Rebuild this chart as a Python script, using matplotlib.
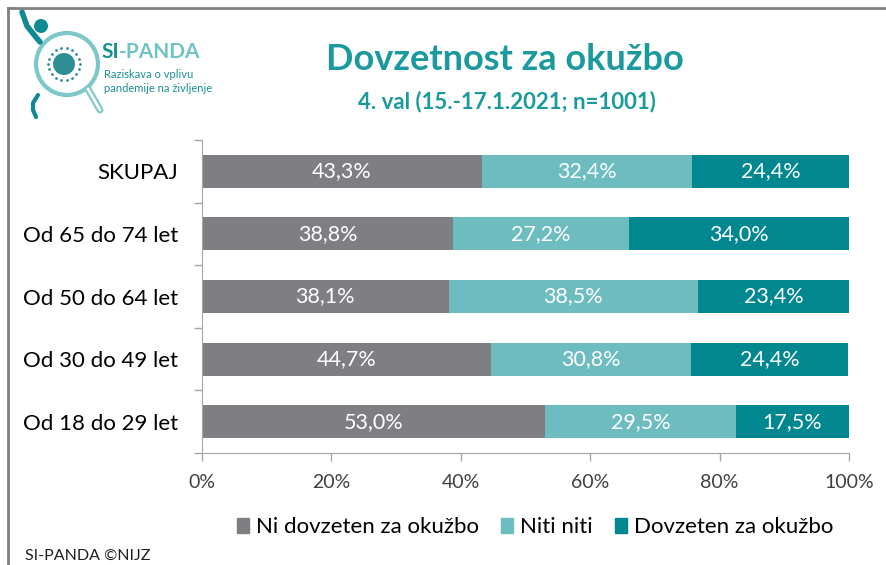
import matplotlib
matplotlib.use("Agg")
import matplotlib.pyplot as plt
from matplotlib.patches import Circle, Rectangle, FancyBboxPatch
from matplotlib.lines import Line2D
import numpy as np

plt.rcParams['font.family'] = ['Lato', 'DejaVu Sans']

categories = ["SKUPAJ", "Od 65 do 74 let", "Od 50 do 64 let", "Od 30 do 49 let", "Od 18 do 29 let"]
ni_dovzeten = [43.3, 38.8, 38.1, 44.7, 53.0]
niti_niti = [32.4, 27.2, 38.5, 30.8, 29.5]
dovzeten = [24.4, 34.0, 23.4, 24.4, 17.5]
series_names = ["Ni dovzeten za okužbo", "Niti niti", "Dovzeten za okužbo"]
colors = ["#7f7f83", "#6dbcc0", "#00878f"]
xticks = [0, 20, 40, 60, 80, 100]

W, H = 887, 565
fig = plt.figure(figsize=(W / 100, H / 100), dpi=100)
ax = fig.add_axes([0.2277, 0.1982, 0.7295, 0.554])

ypos = np.arange(len(categories))[::-1]
left = np.zeros(len(categories))
for vals, col in zip([ni_dovzeten, niti_niti, dovzeten], colors):
    vals = np.array(vals)
    ax.barh(ypos, vals, left=left, height=0.53, color=col, edgecolor="none")
    for y, l, v in zip(ypos, left, vals):
        ax.text(l + v / 2, y, f"{v:.1f}%".replace(".", ","), ha="center", va="center",
                color="white", fontsize=15.5)
    left = left + vals

ax.set_xlim(0, 100)
ax.set_ylim(-0.5, 4.5)
ax.set_xticks(xticks)
ax.set_xticklabels([f"{t}%" for t in xticks], fontsize=14, color="#404040")
ax.set_yticks(ypos)
ax.set_yticklabels(categories, fontsize=16, color="#000000")
ax.set_yticks(np.arange(-0.5, 5.0, 1.0), minor=True)
ax.tick_params(axis="y", which="major", length=0, pad=17)
ax.tick_params(axis="y", which="minor", length=6, color="#a6a6a6", width=1)
ax.tick_params(axis="x", length=6, color="#a6a6a6", width=1, pad=9)
for s in ["top", "right"]:
    ax.spines[s].set_visible(False)
for s in ["left", "bottom"]:
    ax.spines[s].set_color("#a6a6a6")

handles = [Rectangle((0, 0), 1, 1, color=c) for c in colors]
fig.legend(handles, series_names, loc="center", bbox_to_anchor=(0.603, 0.067), ncol=3,
           frameon=False, fontsize=16, handlelength=0.55, handleheight=0.7,
           handletextpad=0.3, columnspacing=1.0)

# titles
fig.text(0.569, 0.894, "Dovzetnost za okužbo", ha="center", va="center",
         fontsize=26, fontweight="bold", color="#1a9a9e")
fig.text(0.571, 0.821, "4. val (15.-17.1.2021; n=1001)", ha="center", va="center",
         fontsize=16, fontweight="bold", color="#1a9a9e")
fig.text(0.028, 0.017, "SI-PANDA ©NIJZ", ha="left", va="center", fontsize=11.5, color="#202020")

# simple logo, drawn in pixel coordinates
lg = fig.add_axes([0, 0, 1, 1], zorder=-1)
lg.set_xlim(0, W)
lg.set_ylim(H, 0)
lg.axis("off")
lg.add_patch(Circle((67, 64), 31, fill=False, edgecolor="#7cc7c9", linewidth=3))
lg.add_patch(Circle((64, 64), 11, facecolor="#2d8f95", edgecolor="none"))
ang = np.linspace(0, 2 * np.pi, 18, endpoint=False)
lg.scatter(64 + 16 * np.cos(ang), 64 + 16 * np.sin(ang), s=4, color="#2d8f95", linewidths=0)
lg.plot([88, 100], [89, 110], color="#7cc7c9", linewidth=5, solid_capstyle="round")
lg.plot([88, 100], [89, 110], color="white", linewidth=2, solid_capstyle="round")
lg.add_patch(Circle((41, 26), 7, facecolor="#0f8a92", edgecolor="none"))
lg.plot([22, 27, 35, 40], [12, 26, 36, 42], color="#0f8a92", linewidth=4, solid_capstyle="round")
lg.plot([38, 33, 33, 36], [95, 103, 110, 117], color="#0f8a92", linewidth=3, solid_capstyle="round")

t1 = lg.text(101, 52, "SI", ha="left", va="center", fontsize=15, fontweight="bold", color="#1a8f95")
fig.canvas.draw()
bb = t1.get_window_extent()
lg.text(101 + bb.width, 52, "-PANDA", ha="left", va="center", fontsize=15, fontweight="bold",
        color="#6fc3c5")
lg.text(104, 75, "Raziskava o vplivu", ha="left", va="center", fontsize=8, color="#1a8f95")
lg.text(104, 89, "pandemije na življenje", ha="left", va="center", fontsize=8, color="#1a8f95")

# border lines
fig.add_artist(Line2D([0.009, 1.0], [0.985, 0.985], transform=fig.transFigure, color="#808080", linewidth=2))
fig.add_artist(Line2D([0.009, 0.009], [0.0, 0.985], transform=fig.transFigure, color="#808080", linewidth=2))

fig.savefig("out.png", dpi=100)
